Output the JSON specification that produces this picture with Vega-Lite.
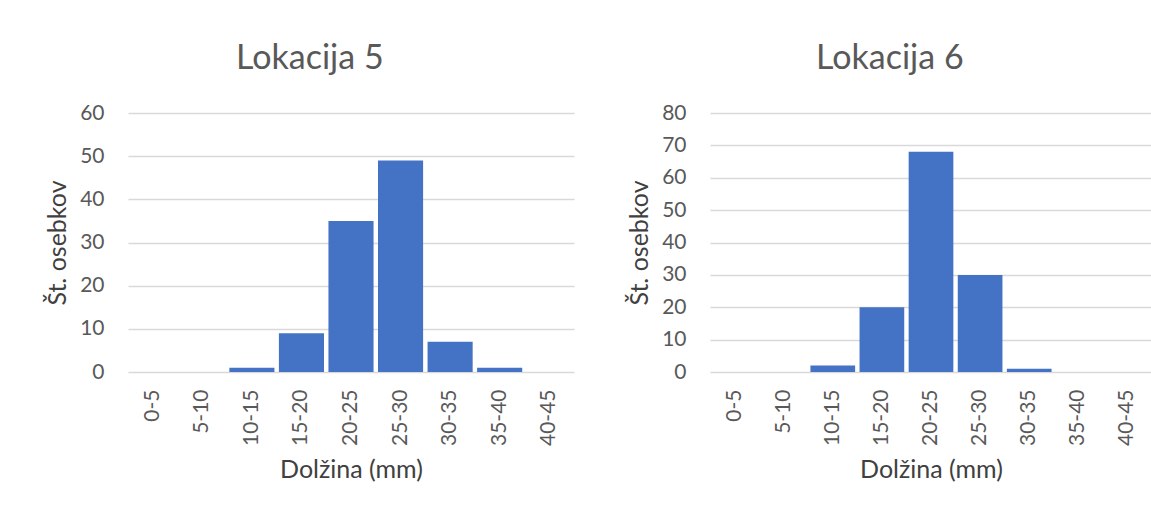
{
  "$schema": "https://vega.github.io/schema/vega-lite/v6.json",
  "padding": {"left": 45, "top": 42, "right": 0, "bottom": 0},
  "background": "white",
  "spacing": 53,
  "datasets": {
    "loc5": [
      {"range": "0-5", "count": 0},
      {"range": "5-10", "count": 0},
      {"range": "10-15", "count": 1},
      {"range": "15-20", "count": 9},
      {"range": "20-25", "count": 35},
      {"range": "25-30", "count": 49},
      {"range": "30-35", "count": 7},
      {"range": "35-40", "count": 1},
      {"range": "40-45", "count": 0}
    ],
    "loc6": [
      {"range": "0-5", "count": 0},
      {"range": "5-10", "count": 0},
      {"range": "10-15", "count": 2},
      {"range": "15-20", "count": 20},
      {"range": "20-25", "count": 68},
      {"range": "25-30", "count": 30},
      {"range": "30-35", "count": 1},
      {"range": "35-40", "count": 0},
      {"range": "40-45", "count": 0}
    ]
  },
  "config": {
    "font": "Lato",
    "view": {"stroke": null},
    "axis": {
      "labelColor": "#595959",
      "titleColor": "#404040",
      "labelFont": "Lato",
      "titleFont": "Lato",
      "labelFontSize": 21,
      "titleFontSize": 25,
      "titleFontWeight": "normal",
      "gridColor": "#d9d9d9",
      "gridWidth": 1.3,
      "ticks": false,
      "domain": false
    },
    "title": {
      "fontSize": 34,
      "fontWeight": "normal",
      "color": "#595959",
      "font": "Lato",
      "frame": "bounds",
      "anchor": "middle",
      "offset": 26
    }
  },
  "hconcat": [
    {
      "width": 446,
      "height": 259,
      "title": {"text": "Lokacija 5"},
      "data": {"name": "loc5"},
      "mark": {"type": "bar", "color": "#4472C4"},
      "encoding": {
        "x": {
          "field": "range",
          "type": "ordinal",
          "sort": null,
          "scale": {"paddingInner": 0.09, "paddingOuter": 0.045},
          "axis": {"title": "Dolžina (mm)", "labelAngle": -90, "labelPadding": 17, "titlePadding": 12, "grid": false}
        },
        "y": {
          "field": "count",
          "type": "quantitative",
          "scale": {"domain": [0, 60]},
          "axis": {"title": "Št. osebkov", "values": [0, 10, 20, 30, 40, 50, 60], "labelPadding": 24, "titlePadding": 9}
        }
      }
    },
    {
      "width": 442,
      "height": 259,
      "title": {"text": "Lokacija 6"},
      "data": {"name": "loc6"},
      "mark": {"type": "bar", "color": "#4472C4"},
      "encoding": {
        "x": {
          "field": "range",
          "type": "ordinal",
          "sort": null,
          "scale": {"paddingInner": 0.09, "paddingOuter": 0.045},
          "axis": {"title": "Dolžina (mm)", "labelAngle": -90, "labelPadding": 17, "titlePadding": 12, "grid": false}
        },
        "y": {
          "field": "count",
          "type": "quantitative",
          "scale": {"domain": [0, 80]},
          "axis": {"title": "Št. osebkov", "values": [0, 10, 20, 30, 40, 50, 60, 70, 80], "labelPadding": 24, "titlePadding": 9}
        }
      }
    }
  ]
}
